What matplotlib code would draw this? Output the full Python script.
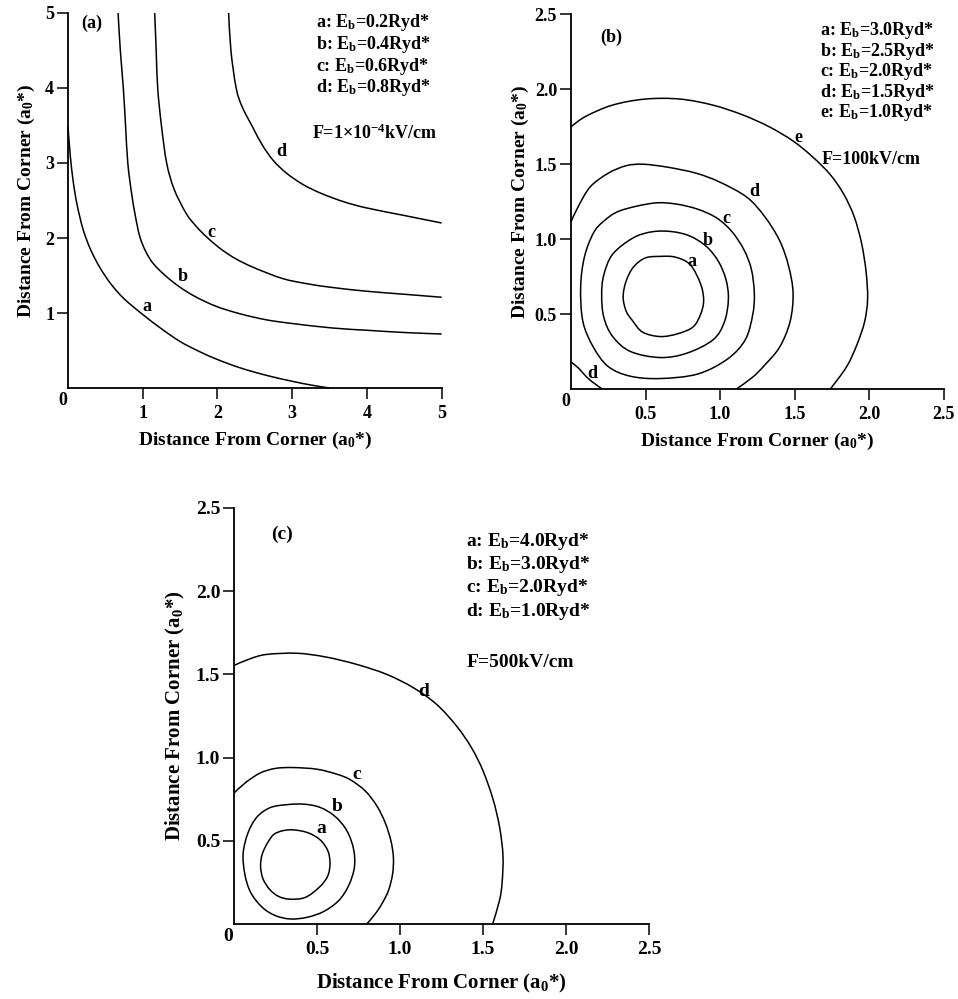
import matplotlib
matplotlib.use("Agg")
import numpy as np
import matplotlib.pyplot as plt
from matplotlib.path import Path
from matplotlib.patches import PathPatch

plt.rcParams["font.family"] = ["Liberation Serif", "DejaVu Serif"]
plt.rcParams["font.weight"] = "bold"
plt.rcParams["axes.labelweight"] = "bold"
plt.rcParams["mathtext.fontset"] = "custom"
plt.rcParams["mathtext.rm"] = "Liberation Serif:bold"
plt.rcParams["mathtext.it"] = "Liberation Serif:italic:bold"
plt.rcParams["mathtext.bf"] = "Liberation Serif:bold"

# ---- panel (a): F = 1e-4 kV/cm ----
a_curve_a = [(0.0, 3.48), (0.03, 3.1), (0.07, 2.75), (0.12, 2.45), (0.2, 2.12), (0.3, 1.85),
             (0.43, 1.6), (0.58, 1.38), (0.75, 1.19), (1.0, 0.98), (1.25, 0.79), (1.5, 0.62),
             (1.75, 0.49), (2.0, 0.38), (2.3, 0.27), (2.65, 0.17), (3.0, 0.09), (3.25, 0.04),
             (3.5, 0.0)]
a_curve_b = [(0.67, 5.0), (0.70, 4.5), (0.74, 4.0), (0.77, 3.5), (0.80, 3.0), (0.85, 2.6),
             (0.90, 2.3), (0.96, 2.02), (1.04, 1.82), (1.14, 1.66), (1.3, 1.5), (1.49, 1.35),
             (1.7, 1.22), (1.98, 1.09), (2.3, 0.99), (2.65, 0.91), (3.0, 0.86), (3.54, 0.80),
             (4.0, 0.77), (4.5, 0.74), (5.0, 0.72)]
a_curve_c = [(1.16, 5.0), (1.18, 4.5), (1.20, 4.0), (1.25, 3.5), (1.32, 3.0), (1.42, 2.65),
             (1.58, 2.33), (1.72, 2.15), (1.87, 2.0), (2.05, 1.85), (2.25, 1.72), (2.5, 1.6),
             (2.87, 1.46), (3.2, 1.39), (3.54, 1.34), (4.0, 1.29), (4.5, 1.25), (5.0, 1.21)]
a_curve_d = [(2.15, 5.0), (2.18, 4.5), (2.25, 4.0), (2.33, 3.75), (2.47, 3.48), (2.6, 3.24),
             (2.75, 3.03), (2.93, 2.86), (3.15, 2.71), (3.4, 2.59), (3.7, 2.48), (4.0, 2.40),
             (4.5, 2.30), (5.0, 2.20)]
a_curve_names = ["a", "b", "c", "d"]
a_label_pos = [(1.05, 1.09), (1.54, 1.49), (1.92, 2.08), (2.85, 3.15)]
a_legend = [r"a: E$_{\rm b}$=0.2Ryd*", r"b: E$_{\rm b}$=0.4Ryd*",
            r"c: E$_{\rm b}$=0.6Ryd*", r"d: E$_{\rm b}$=0.8Ryd*"]
a_field = r"F=1×10$^{{-}\rm 4}$kV/cm"
a_ticks = [1, 2, 3, 4, 5]

# ---- panel (b): F = 100 kV/cm ----
b_curve_a = [(0.60, 0.885), (0.50, 0.875), (0.42, 0.815), (0.37, 0.72), (0.35, 0.615),
             (0.37, 0.52), (0.41, 0.46), (0.48, 0.38), (0.60, 0.35), (0.72, 0.37),
             (0.82, 0.415), (0.87, 0.5), (0.89, 0.59), (0.87, 0.70), (0.80, 0.83),
             (0.70, 0.88), (0.60, 0.885)]
b_curve_b = [(0.55, 1.05), (0.42, 1.01), (0.28, 0.90), (0.22, 0.76), (0.206, 0.63),
             (0.22, 0.48), (0.28, 0.35), (0.40, 0.25), (0.60, 0.21), (0.78, 0.24),
             (0.955, 0.33), (1.03, 0.45), (1.056, 0.60), (1.04, 0.73), (0.99, 0.85),
             (0.91, 0.95), (0.80, 1.02), (0.68, 1.05), (0.55, 1.05)]
b_curve_c = [(0.55, 1.24), (0.33, 1.19), (0.22, 1.12), (0.15, 1.04), (0.09, 0.88),
             (0.065, 0.68), (0.08, 0.45), (0.15, 0.28), (0.25, 0.15), (0.40, 0.085),
             (0.60, 0.07), (0.85, 0.10), (1.05, 0.20), (1.17, 0.33), (1.22, 0.50),
             (1.23, 0.64), (1.21, 0.80), (1.16, 0.93), (1.08, 1.05), (0.98, 1.14),
             (0.85, 1.20), (0.70, 1.235), (0.55, 1.24)]
b_curve_d = [(0.0, 1.115), (0.05, 1.22), (0.13, 1.35), (0.25, 1.44), (0.37, 1.49),
             (0.485, 1.50), (0.65, 1.48), (0.84, 1.44), (1.0, 1.38), (1.18, 1.28),
             (1.30, 1.15), (1.40, 0.99), (1.46, 0.82), (1.49, 0.64), (1.47, 0.45),
             (1.40, 0.28), (1.30, 0.16), (1.22, 0.08), (1.11, 0.0)]
b_curve_d2 = [(0.0, 0.18), (0.05, 0.14), (0.105, 0.08), (0.16, 0.035), (0.21, 0.0)]
b_curve_e = [(0.0, 1.75), (0.1, 1.82), (0.28, 1.895), (0.5, 1.935), (0.73, 1.935),
             (0.95, 1.895), (1.15, 1.83), (1.33, 1.75), (1.49, 1.655), (1.62, 1.55),
             (1.74, 1.43), (1.83, 1.30), (1.90, 1.15), (1.95, 0.97), (1.98, 0.78),
             (1.99, 0.60), (1.97, 0.45), (1.92, 0.30), (1.85, 0.15), (1.74, 0.0)]
b_curve_names = ["a", "b", "c", "d", "d", "e"]
b_label_pos = [(0.81, 0.85), (0.92, 0.99), (1.04, 1.14), (1.23, 1.315), (0.14, 0.105), (1.525, 1.68)]
b_legend = [r"a: E$_{\rm b}$=3.0Ryd*", r"b: E$_{\rm b}$=2.5Ryd*", r"c: E$_{\rm b}$=2.0Ryd*",
            r"d: E$_{\rm b}$=1.5Ryd*", r"e: E$_{\rm b}$=1.0Ryd*"]
b_field = "F=100kV/cm"
b_ticks = [0.5, 1.0, 1.5, 2.0, 2.5]

# ---- panel (c): F = 500 kV/cm ----
c_curve_a = [(0.337, 0.566), (0.25, 0.545), (0.207, 0.496), (0.17, 0.42), (0.16, 0.345),
             (0.175, 0.27), (0.217, 0.205), (0.27, 0.165), (0.337, 0.149), (0.43, 0.16),
             (0.518, 0.225), (0.565, 0.29), (0.578, 0.365), (0.565, 0.44), (0.518, 0.506),
             (0.44, 0.55), (0.337, 0.566)]
c_curve_b = [(0.317, 0.717), (0.22, 0.70), (0.14, 0.645), (0.085, 0.55), (0.055, 0.425),
             (0.065, 0.30), (0.10, 0.19), (0.17, 0.10), (0.25, 0.05), (0.34, 0.03),
             (0.44, 0.04), (0.54, 0.075), (0.63, 0.14), (0.69, 0.23), (0.725, 0.34),
             (0.72, 0.45), (0.68, 0.56), (0.61, 0.645), (0.52, 0.70), (0.42, 0.72),
             (0.317, 0.717)]
c_curve_c = [(0.0, 0.787), (0.07, 0.85), (0.157, 0.907), (0.25, 0.935), (0.357, 0.94),
             (0.5, 0.93), (0.62, 0.90), (0.70, 0.867), (0.79, 0.80), (0.86, 0.71),
             (0.91, 0.61), (0.945, 0.50), (0.96, 0.40), (0.955, 0.30), (0.93, 0.20),
             (0.89, 0.12), (0.85, 0.06), (0.80, 0.0)]
c_curve_d = [(0.0, 1.554), (0.1, 1.595), (0.197, 1.62), (0.378, 1.627), (0.55, 1.605),
             (0.739, 1.56), (0.92, 1.50), (1.08, 1.42), (1.22, 1.32), (1.34, 1.19),
             (1.43, 1.06), (1.50, 0.92), (1.56, 0.75), (1.60, 0.58), (1.62, 0.41),
             (1.615, 0.25), (1.60, 0.145), (1.558, 0.0)]
c_curve_names = ["a", "b", "c", "d"]
c_label_pos = [(0.528, 0.576), (0.62, 0.707), (0.739, 0.897), (1.14, 1.40)]
c_legend = [r"a: E$_{\rm b}$=4.0Ryd*", r"b: E$_{\rm b}$=3.0Ryd*",
            r"c: E$_{\rm b}$=2.0Ryd*", r"d: E$_{\rm b}$=1.0Ryd*"]
c_field = "F=500kV/cm"
c_ticks = [0.5, 1.0, 1.5, 2.0, 2.5]

XLABEL = r"Distance From Corner (a$_{\rm 0}$*)"

fig = plt.figure(figsize=(9.58, 9.99), dpi=100)


def smooth_path(pts):
    # Catmull-Rom through the read points, drawn as cubic Bezier segments
    p = np.array(pts, dtype=float)
    closed = np.allclose(p[0], p[-1])
    if closed:
        p = p[:-1]
    n = len(p)
    verts = [p[0]]
    codes = [Path.MOVETO]
    last = n if closed else n - 1
    for i in range(last):
        if closed:
            p0, p1, p2, p3 = p[(i - 1) % n], p[i], p[(i + 1) % n], p[(i + 2) % n]
        else:
            p0 = p[max(i - 1, 0)]
            p1, p2 = p[i], p[i + 1]
            p3 = p[min(i + 2, n - 1)]
        verts += [p1 + (p2 - p0) / 6.0, p2 - (p3 - p1) / 6.0, p2]
        codes += [Path.CURVE4] * 3
    return Path(verts, codes)


def setup(ax, lim, ticks, fmt, fs, lfs, ylpad, xlpad):
    ax.set_xlim(0, lim)
    ax.set_ylim(0, lim)
    for s in ["top", "right"]:
        ax.spines[s].set_visible(False)
    for s in ["left", "bottom"]:
        ax.spines[s].set_linewidth(1.3)
    ax.set_xticks(ticks)
    ax.set_yticks(ticks)
    ax.set_xticklabels([fmt.format(t) for t in ticks])
    ax.set_yticklabels([fmt.format(t) for t in ticks])
    ax.tick_params(direction="out", length=8, width=1.1, labelsize=fs)
    ax.tick_params(axis="x", pad=4)
    ax.tick_params(axis="y", pad=2)
    ax.set_xlabel(XLABEL, fontsize=lfs, labelpad=xlpad)
    ax.set_ylabel(XLABEL, fontsize=lfs, labelpad=ylpad)
    ax.annotate("0", (0, 0), xytext=(-4, -9), textcoords="offset points",
                ha="center", va="center", fontsize=fs, fontweight="bold")


def draw(ax, curves, names, label_pos, fs):
    for pts in curves:
        ax.add_patch(PathPatch(smooth_path(pts), fill=False, edgecolor="black",
                               lw=1.1, clip_on=False))
    for n, (x, y) in zip(names, label_pos):
        ax.text(x, y, n, ha="center", va="center", fontsize=fs, fontweight="bold")


def legend(ax, lines, x, y0, step, field, fx, fy, fs):
    for i, s in enumerate(lines):
        ax.text(x, y0 - i * step, s, ha="left", va="center", fontsize=fs, fontweight="bold")
    ax.text(fx, fy, field, ha="left", va="center", fontsize=fs, fontweight="bold")


# (a)
ax1 = fig.add_axes([0.071, 0.6116, 0.390, 0.3754])
setup(ax1, 5, a_ticks, "{:g}", 13, 14, 6, 6)
draw(ax1, [a_curve_a, a_curve_b, a_curve_c, a_curve_d], a_curve_names, a_label_pos, 13)
legend(ax1, a_legend, 3.32, 4.87, 0.29, a_field, 3.27, 3.40, 13)
ax1.text(0.32, 4.86, "(a)", ha="center", va="center", fontsize=13, fontweight="bold")

# (b)
ax2 = fig.add_axes([0.596, 0.6106, 0.389, 0.375])
setup(ax2, 2.5, b_ticks, "{:.1f}", 13, 14, 3, 6)
draw(ax2, [b_curve_a, b_curve_b, b_curve_c, b_curve_d, b_curve_d2, b_curve_e],
     b_curve_names, b_label_pos, 13)
legend(ax2, b_legend, 1.67, 2.39, 0.136, b_field, 1.68, 1.53, 13)
ax2.text(0.27, 2.35, "(b)", ha="center", va="center", fontsize=13, fontweight="bold")

# (c)
ax3 = fig.add_axes([0.2443, 0.0751, 0.4332, 0.4164])
setup(ax3, 2.5, c_ticks, "{:.1f}", 14, 15, 6, 10)
draw(ax3, [c_curve_a, c_curve_b, c_curve_c, c_curve_d], c_curve_names, c_label_pos, 14)
legend(ax3, c_legend, 1.40, 2.30, 0.14, c_field, 1.40, 1.57, 14)
ax3.text(0.29, 2.34, "(c)", ha="center", va="center", fontsize=14, fontweight="bold")

fig.savefig("out.png", dpi=100)
